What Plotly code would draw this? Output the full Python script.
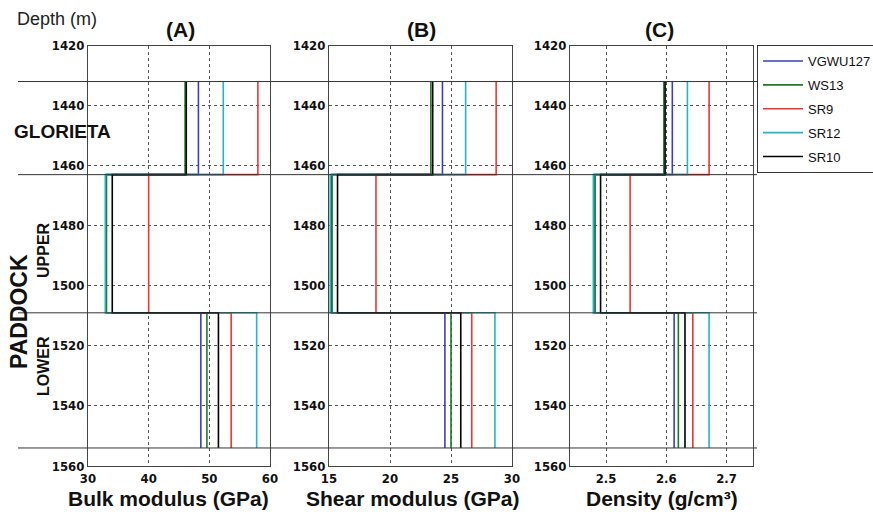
import plotly.graph_objects as go

W, H = 873, 512

# ---------------- data ----------------
wells = ["VGWU127", "WS13", "SR9", "SR12", "SR10"]
colors = ["#3e3ebd", "#1f7a24", "#ee3535", "#22b5c4", "#000000"]

# layer boundaries (m): Glorieta top, Upper Paddock top, Lower Paddock top, base
boundaries = [1432, 1463, 1509, 1554]

# values per layer: [Glorieta, Upper Paddock, Lower Paddock]
bulk_VGWU127 = [48.2, 32.95, 48.6]
bulk_WS13 = [46.0, 33.05, 49.6]
bulk_SR9 = [58.0, 40.0, 53.6]
bulk_SR12 = [52.3, 32.85, 57.8]
bulk_SR10 = [46.2, 34.0, 51.5]

shear_VGWU127 = [24.3, 15.2, 24.5]
shear_WS13 = [23.35, 15.25, 25.0]
shear_SR9 = [28.7, 18.85, 26.7]
shear_SR12 = [26.2, 15.1, 28.6]
shear_SR10 = [23.5, 15.7, 25.8]

dens_VGWU127 = [2.610, 2.480, 2.613]
dens_WS13 = [2.596, 2.482, 2.620]
dens_SR9 = [2.671, 2.540, 2.644]
dens_SR12 = [2.635, 2.479, 2.671]
dens_SR10 = [2.598, 2.491, 2.631]

y_ticks = [1420, 1440, 1460, 1480, 1500, 1520, 1540, 1560]
bulk_ticks = [30, 40, 50, 60]
shear_ticks = [15, 20, 25, 30]
dens_ticks = [2.5, 2.6, 2.7]

panel_titles = ["(A)", "(B)", "(C)"]
x_titles = ["Bulk modulus (GPa)", "Shear modulus (GPa)", "Density (g/cm³)"]

bulk = [bulk_VGWU127, bulk_WS13, bulk_SR9, bulk_SR12, bulk_SR10]
shear = [shear_VGWU127, shear_WS13, shear_SR9, shear_SR12, shear_SR10]
dens = [dens_VGWU127, dens_WS13, dens_SR9, dens_SR12, dens_SR10]


def step_profile(vals):
    xs, ys = [], []
    for i, v in enumerate(vals):
        xs += [v, v]
        ys += [boundaries[i], boundaries[i + 1]]
    return xs, ys


fig = go.Figure()
axes = [("x", "y"), ("x2", "y2"), ("x3", "y3")]
for p, dataset in enumerate([bulk, shear, dens]):
    for k, well in enumerate(wells):
        xs, ys = step_profile(dataset[k])
        fig.add_trace(go.Scatter(
            x=xs, y=ys, mode="lines", name=well,
            line=dict(color=colors[k], width=1.6),
            xaxis=axes[p][0], yaxis=axes[p][1],
            legendgroup=well, showlegend=(p == 0),
        ))

# ---------------- layout ----------------
tickfont = dict(family="Liberation Sans Narrow, DejaVu Sans Condensed, Arial Narrow, Liberation Sans",
                size=13, color="#111", weight="bold")
grid = dict(showgrid=True, gridcolor="#555", griddash="dot", gridwidth=1,
            showline=True, linecolor="#444", linewidth=1, mirror=True,
            ticks="", zeroline=False, tickfont=tickfont)

px_dom = [(88, 270), (329, 512), (570, 753)]
x_ranges = [[30, 60], [15, 30], [2.4403, 2.7438]]
x_tickvals = [bulk_ticks, shear_ticks, dens_ticks]
ydom = [(H - 466) / H, (H - 45.5) / H]

layout = dict(
    width=W, height=H,
    margin=dict(l=0, r=0, t=0, b=0, autoexpand=False),
    paper_bgcolor="white", plot_bgcolor="white",
    font=dict(family="Liberation Sans, Arial", color="#111"),
    showlegend=True,
    legend=dict(x=757 / W, y=(H - 45) / H, xanchor="left", yanchor="top",
                bgcolor="white", bordercolor="#333", borderwidth=1,
                font=dict(size=13, family="Liberation Sans, Arial", color="#111"),
                tracegroupgap=4, itemwidth=40),
)
for p in range(3):
    sx = "" if p == 0 else str(p + 1)
    layout["xaxis" + sx] = dict(domain=[px_dom[p][0] / W, px_dom[p][1] / W],
                                range=x_ranges[p], tickvals=x_tickvals[p],
                                anchor="y" + sx, **grid)
    layout["yaxis" + sx] = dict(domain=ydom, range=[1560, 1420], tickvals=y_ticks,
                                anchor="x" + sx, **grid)
fig.update_layout(**layout)

# formation boundary lines across the whole figure
for b in boundaries:
    fig.add_shape(type="line", xref="paper", yref="y", x0=18 / W, x1=757 / W,
                  y0=b, y1=b, line=dict(color="#333", width=1))


def label(text, cx, cy, size, angle=0, color="#111"):
    return dict(text=text, x=cx / W, y=(H - cy) / H, xref="paper", yref="paper",
                xanchor="center", yanchor="middle", showarrow=False, textangle=angle,
                font=dict(size=size, family="Liberation Sans, Arial", color=color))


ann = []
title_cx = [180, 421, 659]
for p in range(3):
    ann.append(label("<b>%s</b>" % panel_titles[p], title_cx[p], 29, 21))
xt_cx = [168, 413, 662]
for p in range(3):
    ann.append(label("<b>%s</b>" % x_titles[p], xt_cx[p], 498, 21))
ann.append(label("Depth (m)", 57, 19, 18, color="#222"))
ann.append(label("<b>GLORIETA</b>", 62, 131, 19))
ann.append(label("<b>PADDOCK</b>", 19, 312, 23, angle=-90))
ann.append(label("<b>UPPER</b>", 43, 250, 16, angle=-90))
ann.append(label("<b>LOWER</b>", 43, 366, 16, angle=-90))
fig.update_layout(annotations=ann)

fig.write_html("out.html")
